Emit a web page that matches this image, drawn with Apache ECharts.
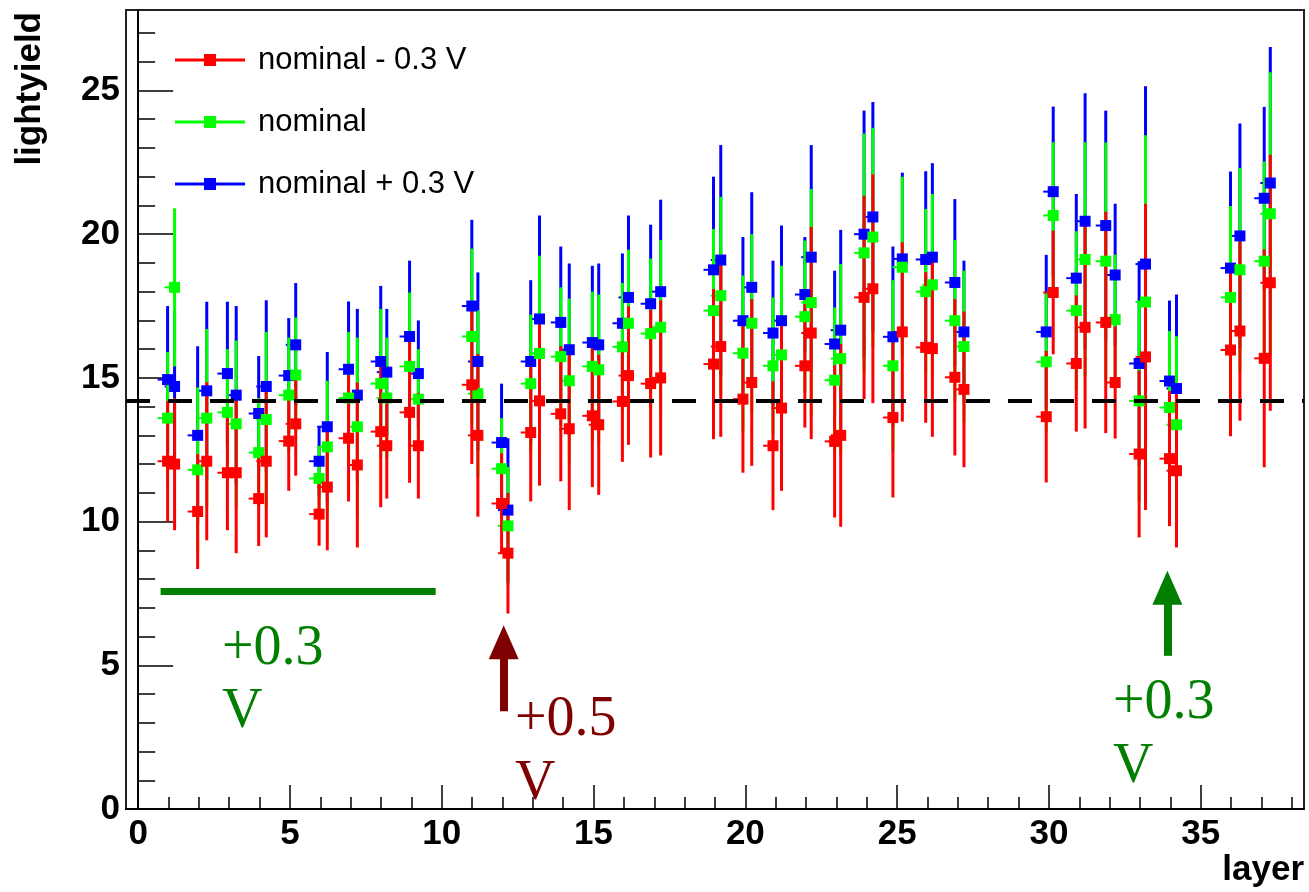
<!DOCTYPE html>
<html><head><meta charset="utf-8">
<script src="https://cdn.jsdelivr.net/npm/echarts@6/dist/echarts.min.js"></script>
<style>html,body{margin:0;padding:0;background:#fff}#c{width:1309px;height:892px}</style>
</head><body><div id="c"></div>
<script>
// layers measured (two readings per layer: column A and column B)
const layers = [1,2,3,4,5,6,7,8,9,11,12,13,14,15,16,17,19,20,21,22,23,24,25,26,27,30,31,32,33,34,36,37];
const xA = [0.97,1.96,2.94,3.97,4.96,5.96,6.93,7.99,8.94,10.99,11.97,12.93,13.92,14.96,15.95,16.88,18.95,19.92,20.91,21.96,22.94,23.91,24.86,25.94,26.90,29.91,30.90,31.87,32.97,33.97,35.98,37.09];
const xB = [1.20,2.26,3.23,4.22,5.19,6.23,7.22,8.19,9.23,11.19,12.18,13.22,14.20,15.17,16.15,17.21,19.19,20.21,21.19,22.17,23.14,24.20,25.17,26.16,27.20,30.14,31.19,32.18,33.18,34.20,36.29,37.29];

// nominal - 0.3 V
const redA    = [12.1,10.35,11.7,10.8,12.8,10.26,12.9,13.13,13.8,14.76,10.63,13.1,13.75,13.68,14.18,14.8,15.48,14.26,12.64,15.42,12.79,17.8,13.62,16.06,15.02,13.65,15.5,16.93,12.35,12.19,15.97,15.68];
const redAErr = [2.1,2.0,2.0,1.65,1.73,1.1,2.2,2.63,2.45,2.76,1.75,2.4,2.35,2.48,2.1,2.57,2.61,2.56,2.24,2.15,2.65,3.54,2.78,2.62,2.72,2.29,2.37,3.85,2.9,2.35,3.0,3.79];
const redB    = [12.0,12.1,11.7,12.1,13.4,11.2,11.97,12.64,12.64,13.0,8.9,14.2,13.23,13.37,15.08,15.0,16.09,14.84,13.95,16.56,13.0,18.1,16.6,16.02,14.6,17.97,16.76,14.84,15.73,11.77,16.63,18.31];
const redBErr = [2.3,2.75,2.8,2.65,1.8,2.2,2.87,1.84,1.84,2.83,2.1,2.95,2.83,2.44,2.41,2.7,3.14,2.9,2.88,3.69,3.18,3.98,3.12,3.07,2.71,2.15,3.52,1.95,5.33,2.67,3.12,4.45];
// nominal
const greenA    = [13.6,11.8,13.8,12.4,14.4,11.5,14.3,14.8,15.4,16.44,11.84,14.8,15.74,15.4,16.08,16.54,17.34,15.86,15.42,17.13,14.92,19.35,15.42,18.0,16.99,15.56,17.34,19.06,14.2,13.97,17.8,19.06];
const greenAErr = [2.3,2.87,2.2,1.9,2.0,1.1,2.3,2.6,2.57,3.06,1.76,2.4,2.41,2.6,2.22,2.61,2.84,2.7,2.38,2.65,2.53,4.15,2.98,2.88,2.81,2.42,2.76,4.13,3.49,2.66,3.18,3.47];
const greenB    = [18.15,13.6,13.4,13.55,15.1,12.6,13.3,14.3,14.26,14.45,9.85,15.85,14.9,15.28,16.9,16.76,17.86,16.9,15.8,17.62,15.67,19.9,18.85,18.24,16.09,20.65,19.12,17.03,17.64,13.37,18.76,20.71];
const greenBErr = [2.75,3.1,2.9,3.05,2.0,2.3,3.1,2.1,1.74,2.9,2.05,3.4,2.86,2.62,2.56,3.04,3.44,3.1,3.1,3.95,3.29,3.8,3.15,3.16,2.64,2.55,4.08,2.26,5.8,3.08,3.54,4.92];
// nominal + 0.3 V
const blueA    = [14.94,13.0,15.15,13.76,15.08,12.1,15.3,15.57,16.44,17.5,12.75,15.57,16.93,16.23,16.9,17.58,18.76,16.99,16.56,17.9,16.18,20.0,16.43,19.12,18.32,16.6,18.47,20.3,15.5,14.89,18.82,21.25];
const blueAErr = [2.56,3.1,2.5,2.0,2.0,1.23,2.36,2.63,2.64,3.0,2.05,2.83,2.64,2.67,2.43,2.75,3.24,2.91,2.52,2.0,2.55,4.3,3.14,3.07,2.9,2.68,2.93,4.0,3.56,2.8,3.36,3.18];
const blueB    = [14.7,14.55,14.4,14.7,16.15,13.3,14.4,15.2,15.15,15.57,10.4,17.05,15.98,16.15,17.8,18.0,19.1,18.15,16.99,19.2,16.66,20.6,19.14,19.2,16.6,21.48,20.45,18.58,18.96,14.63,19.94,21.78];
const blueBErr = [2.6,3.1,3.1,3.0,2.15,2.6,3.0,2.2,1.85,3.1,2.5,3.6,3.0,2.83,2.85,3.2,4.0,3.31,3.31,3.9,3.49,4.0,3.0,3.27,2.48,2.96,4.45,2.48,6.19,3.27,3.91,4.73];

const seriesNames = ['nominal - 0.3 V','nominal','nominal + 0.3 V'];
const xTicks = [0,5,10,15,20,25,30,35];
const yTicks = [0,5,10,15,20,25];
const refLevel = 14.2;
// annotations (data units)
const barLine = [[0.74,7.58],[9.8,7.58]];
const arrowRed = [[12.04,3.4],[12.04,5.8]];
const arrowGreen = [[33.9,5.33],[33.9,7.7]];

const RED='#ff0000', GREEN='#00ff00', BLUE='#0000ff', DKGREEN='#007f00', MAROON='#7f0000';
const COLORS=[RED, GREEN, BLUE];
const FONT='Liberation Sans, Arial, sans-serif';

function triples(xs, vs, es){ return xs.map((x,i)=>[x, vs[i], es[i]]); }
const redData = triples(xA, redA, redAErr).concat(triples(xB, redB, redBErr));
const greenData = triples(xA, greenA, greenAErr).concat(triples(xB, greenB, greenBErr));
const blueData = triples(xA, blueA, blueAErr).concat(triples(xB, blueB, blueBErr));

function errRenderer(color){
  return function(params, api){
    const x=api.value(0), y=api.value(1), e=api.value(2);
    const t=api.coord([x,y+e]), b=api.coord([x,y-e]), c=api.coord([x,y]);
    return {type:'group', children:[
      {type:'line', shape:{x1:t[0],y1:t[1],x2:b[0],y2:b[1]}, style:{stroke:color, lineWidth:3}},
      {type:'line', shape:{x1:c[0]-10,y1:c[1],x2:c[0],y2:c[1]}, style:{stroke:color, lineWidth:2}}
    ]};
  };
}
function errSeries(name, color, data){
  return {type:'custom', name:name, renderItem:errRenderer(color), data:data, encode:{x:0,y:1}, silent:true,
    itemStyle:{color:color}, xAxisIndex:0, yAxisIndex:0};
}
function markSeries(name, color, data){
  return {type:'scatter', name:name, data:data.map(d=>[d[0],d[1]]), symbol:'rect', symbolSize:11,
    itemStyle:{color:color, opacity:1}, xAxisIndex:0, yAxisIndex:0};
}
const intRange = (a,b)=>{const r=[];for(let i=a;i<=b;i++)r.push(i);return r;};

const chart = echarts.init(document.getElementById('c'), null, {renderer:'canvas'});
const legendIcon = 'path://M0,4.5H29V0H41V4.5H70V7.5H41V12H29V7.5H0Z';
chart.setOption({
  animation:false,
  backgroundColor:'#fff',
  color:[BLUE, GREEN, RED],
  grid:{left:126, right:5, top:10, bottom:83, show:true, borderColor:'#222', borderWidth:2, backgroundColor:'transparent'},
  xAxis:[
    {type:'value', min:-0.4, max:38.4, position:'bottom',
     axisLine:{show:true, onZero:false, lineStyle:{color:'#000', width:2}},
     axisTick:{show:true, inside:true, length:24, customValues:xTicks, lineStyle:{color:'#000', width:1.5}},
     axisLabel:{customValues:xTicks, margin:8, fontFamily:FONT, fontWeight:'bold', fontSize:35, color:'#000'},
     splitLine:{show:false},
     name:'layer', nameLocation:'end', nameGap:0,
     nameTextStyle:{fontFamily:FONT, fontWeight:'bold', fontSize:35, color:'#000', align:'right', verticalAlign:'top', padding:[44,0,0,0]}},
    {type:'value', min:-0.4, max:38.4, position:'bottom', offset:0,
     axisLine:{show:false}, axisLabel:{show:false}, splitLine:{show:false},
     axisTick:{show:true, inside:true, length:12, customValues:intRange(0,38), lineStyle:{color:'#000', width:1.5}}}
  ],
  yAxis:[
    {type:'value', min:0, max:27.8, position:'left',
     axisLine:{show:true, lineStyle:{color:'#000', width:2}},
     axisTick:{show:true, inside:true, length:35, customValues:yTicks, lineStyle:{color:'#000', width:1.5}},
     axisLabel:{customValues:yTicks, margin:6, fontFamily:FONT, fontWeight:'bold', fontSize:35, color:'#000'},
     splitLine:{show:false}},
    {type:'value', min:0, max:27.8, position:'left', offset:0,
     axisLine:{show:false}, axisLabel:{show:false}, splitLine:{show:false},
     axisTick:{show:true, inside:true, length:17, customValues:intRange(0,27), lineStyle:{color:'#000', width:1.5}}}
  ],
  legend:{show:true, orient:'vertical', left:170, top:37, itemWidth:70, itemHeight:12, itemGap:26,
    data:seriesNames.map((n,i)=>({name:n, icon:legendIcon, itemStyle:{color:COLORS[i]}})),
    textStyle:{fontFamily:FONT, fontSize:31, color:'#000', lineHeight:36, padding:[0,0,0,8]},
    selectedMode:false},
  graphic:[
    {type:'text', x:30, y:12, rotation:Math.PI/2, style:{text:'lightyield', font:'bold 35px '+FONT, fill:'#000', align:'right', verticalAlign:'middle'}},
    {type:'text', left:222, top:618, style:{text:'+0.3\nV', font:'56px Liberation Serif, Times New Roman, serif', lineHeight:63, fill:DKGREEN}},
    {type:'text', left:515, top:688, style:{text:'+0.5\nV', font:'56px Liberation Serif, Times New Roman, serif', lineHeight:64, fill:MAROON}},
    {type:'text', left:1113, top:671, style:{text:'+0.3\nV', font:'56px Liberation Serif, Times New Roman, serif', lineHeight:64, fill:DKGREEN}}
  ],
  series:[
    errSeries(seriesNames[2], BLUE, blueData),
    markSeries(seriesNames[2], BLUE, blueData),
    errSeries(seriesNames[1], GREEN, greenData),
    markSeries(seriesNames[1], GREEN, greenData),
    errSeries(seriesNames[0], RED, redData),
    markSeries(seriesNames[0], RED, redData),
    {type:'scatter', name:'annotations', data:[], silent:true,
     markLine:{silent:true, animation:false, symbol:['none','none'], label:{show:false},
       data:[
         [{yAxis:refLevel, x:126, lineStyle:{color:'#000', width:4, type:[24,18]}}, {yAxis:refLevel, x:1304}],
         [{coord:barLine[0], lineStyle:{color:DKGREEN, width:7, type:'solid'}}, {coord:barLine[1]}],
         [{coord:arrowRed[0], symbol:'none', lineStyle:{color:MAROON, width:8, type:'solid'}}, {coord:arrowRed[1], symbol:'triangle', symbolSize:[30,34]}],
         [{coord:arrowGreen[0], symbol:'none', lineStyle:{color:DKGREEN, width:8, type:'solid'}}, {coord:arrowGreen[1], symbol:'triangle', symbolSize:[30,34]}]
       ]}}
  ]
});
</script></body></html>
